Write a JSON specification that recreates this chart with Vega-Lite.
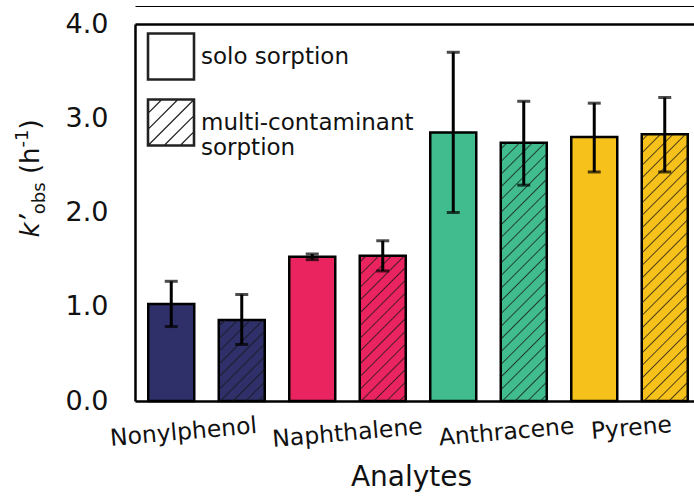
{
  "$schema": "https://vega.github.io/schema/vega-lite/v6.json",
  "width": 559,
  "height": 377,
  "autosize": {"type": "none"},
  "padding": {"left": 135, "top": 24, "right": 0, "bottom": 95},
  "background": "white",
  "config": {"view": {"stroke": null}, "font": "DejaVu Sans"},
  "data": {
    "values": [
      {"analyte": "Nonylphenol", "condition": "solo sorption", "k": 1.03, "lo": 0.79, "hi": 1.27},
      {"analyte": "Nonylphenol", "condition": "multi-contaminant sorption", "k": 0.86, "lo": 0.60, "hi": 1.13},
      {"analyte": "Naphthalene", "condition": "solo sorption", "k": 1.53, "lo": 1.50, "hi": 1.56},
      {"analyte": "Naphthalene", "condition": "multi-contaminant sorption", "k": 1.54, "lo": 1.38, "hi": 1.70},
      {"analyte": "Anthracene", "condition": "solo sorption", "k": 2.85, "lo": 2.00, "hi": 3.70},
      {"analyte": "Anthracene", "condition": "multi-contaminant sorption", "k": 2.74, "lo": 2.29, "hi": 3.18},
      {"analyte": "Pyrene", "condition": "solo sorption", "k": 2.80, "lo": 2.43, "hi": 3.16},
      {"analyte": "Pyrene", "condition": "multi-contaminant sorption", "k": 2.83, "lo": 2.43, "hi": 3.22}
    ]
  },
  "resolve": {"axis": {"x": "independent", "y": "independent"}},
  "layer": [
    {
      "mark": {"type": "bar", "stroke": "black", "strokeWidth": 2.5},
      "encoding": {
        "x": {
          "field": "analyte", "type": "nominal",
          "sort": ["Nonylphenol", "Naphthalene", "Anthracene", "Pyrene"],
          "scale": {"range": [0, 566], "paddingInner": 0, "paddingOuter": 0.0071},
          "axis": {
            "orient": "bottom", "domain": true, "domainColor": "black", "domainWidth": 2.5,
            "ticks": false, "tickSize": 0, "grid": false,
            "labelFont": "DejaVu Sans", "labelFontSize": 23.5, "labelColor": "#111",
            "labelAngle": -5, "labelAlign": "center", "labelBaseline": "middle",
            "labelOverlap": false, "labelBound": false,
            "labelOffset": {
              "condition": [
                {"test": "datum.value === 'Nonylphenol'", "value": -23},
                {"test": "datum.value === 'Anthracene'", "value": 18},
                {"test": "datum.value === 'Pyrene'", "value": 2}
              ],
              "value": 0
            },
            "labelPadding": {
              "condition": [
                {"test": "datum.value === 'Pyrene'", "value": 27},
                {"test": "datum.value === 'Naphthalene'", "value": 32}
              ],
              "value": 31
            },
            "title": "Analytes", "titleFont": "DejaVu Sans", "titleFontSize": 28,
            "titleFontWeight": "normal", "titleColor": "#111",
            "titleX": 276, "titleY": 84, "titleAlign": "center", "titleBaseline": "alphabetic"
          }
        },
        "xOffset": {
          "field": "condition", "type": "nominal",
          "sort": ["solo sorption", "multi-contaminant sorption"],
          "scale": {"paddingInner": 0.3475, "paddingOuter": 0.17375}
        },
        "y": {
          "field": "k", "type": "quantitative", "stack": null,
          "scale": {"domain": [0, 4], "nice": false},
          "axis": {
            "orient": "left", "values": [0, 1, 2, 3, 4], "format": ".1f",
            "domain": true, "domainColor": "black", "domainWidth": 2.5,
            "ticks": false, "tickSize": 0, "grid": false,
            "labelFont": "DejaVu Sans", "labelFontSize": 27, "labelColor": "#111",
            "labelPadding": 27, "title": null
          }
        },
        "fill": {
          "field": "analyte", "type": "nominal",
          "scale": {
            "domain": ["Nonylphenol", "Naphthalene", "Anthracene", "Pyrene"],
            "range": ["#2f3069", "#e9245e", "#41bc8f", "#f7c11b"]
          },
          "legend": null
        }
      }
    },
    {
      "transform": [{"filter": "datum.condition === 'multi-contaminant sorption'"}],
      "mark": {"type": "bar", "strokeWidth": 0},
      "encoding": {
        "x": {
          "field": "analyte", "type": "nominal",
          "sort": ["Nonylphenol", "Naphthalene", "Anthracene", "Pyrene"],
          "axis": {"orient": "top", "domain": true, "domainColor": "black", "domainWidth": 2.5, "labels": false, "ticks": false, "grid": false, "title": null}
        },
        "xOffset": {"field": "condition", "type": "nominal", "sort": ["solo sorption", "multi-contaminant sorption"]},
        "y": {
          "field": "k", "type": "quantitative", "stack": null,
          "axis": {
            "orient": "left", "domain": false, "labels": false, "ticks": false, "grid": false,
            "title": "k’", "titleFont": "DejaVu Sans", "titleFontSize": 26, "titleFontStyle": "italic",
            "titleFontWeight": "normal", "titleColor": "#111", "titleAngle": -90,
            "titleAlign": "left", "titleBaseline": "alphabetic", "titleX": -97, "titleY": 213
          }
        },
        "fill": {
          "condition": [
            {
              "test": "datum.analyte === 'Nonylphenol'",
              "value": {
                "gradient": "linear", "x1": 0, "y1": 0, "x2": 0.6729, "y2": 1.1857,
                "stops": [
                  {"offset": 0.039, "color": "rgba(20,20,20,0)"}, {"offset": 0.05, "color": "rgba(20,20,20,0.75)"}, {"offset": 0.061, "color": "rgba(20,20,20,0)"},
                  {"offset": 0.139, "color": "rgba(20,20,20,0)"}, {"offset": 0.15, "color": "rgba(20,20,20,0.75)"}, {"offset": 0.161, "color": "rgba(20,20,20,0)"},
                  {"offset": 0.239, "color": "rgba(20,20,20,0)"}, {"offset": 0.25, "color": "rgba(20,20,20,0.75)"}, {"offset": 0.261, "color": "rgba(20,20,20,0)"},
                  {"offset": 0.339, "color": "rgba(20,20,20,0)"}, {"offset": 0.35, "color": "rgba(20,20,20,0.75)"}, {"offset": 0.361, "color": "rgba(20,20,20,0)"},
                  {"offset": 0.439, "color": "rgba(20,20,20,0)"}, {"offset": 0.45, "color": "rgba(20,20,20,0.75)"}, {"offset": 0.461, "color": "rgba(20,20,20,0)"},
                  {"offset": 0.539, "color": "rgba(20,20,20,0)"}, {"offset": 0.55, "color": "rgba(20,20,20,0.75)"}, {"offset": 0.561, "color": "rgba(20,20,20,0)"},
                  {"offset": 0.639, "color": "rgba(20,20,20,0)"}, {"offset": 0.65, "color": "rgba(20,20,20,0.75)"}, {"offset": 0.661, "color": "rgba(20,20,20,0)"},
                  {"offset": 0.739, "color": "rgba(20,20,20,0)"}, {"offset": 0.75, "color": "rgba(20,20,20,0.75)"}, {"offset": 0.761, "color": "rgba(20,20,20,0)"},
                  {"offset": 0.839, "color": "rgba(20,20,20,0)"}, {"offset": 0.85, "color": "rgba(20,20,20,0.75)"}, {"offset": 0.861, "color": "rgba(20,20,20,0)"},
                  {"offset": 0.939, "color": "rgba(20,20,20,0)"}, {"offset": 0.95, "color": "rgba(20,20,20,0.75)"}, {"offset": 0.961, "color": "rgba(20,20,20,0)"}
                ]
              }
            },
            {
              "test": "datum.analyte === 'Naphthalene'",
              "value": {
                "gradient": "linear", "x1": 0, "y1": 0, "x2": 0.3793, "y2": 1.1967,
                "stops": [
                  {"offset": 0.026, "color": "rgba(20,20,20,0)"}, {"offset": 0.0333, "color": "rgba(20,20,20,0.75)"}, {"offset": 0.0406, "color": "rgba(20,20,20,0)"},
                  {"offset": 0.0927, "color": "rgba(20,20,20,0)"}, {"offset": 0.1, "color": "rgba(20,20,20,0.75)"}, {"offset": 0.1073, "color": "rgba(20,20,20,0)"},
                  {"offset": 0.1594, "color": "rgba(20,20,20,0)"}, {"offset": 0.1667, "color": "rgba(20,20,20,0.75)"}, {"offset": 0.174, "color": "rgba(20,20,20,0)"},
                  {"offset": 0.226, "color": "rgba(20,20,20,0)"}, {"offset": 0.2333, "color": "rgba(20,20,20,0.75)"}, {"offset": 0.2406, "color": "rgba(20,20,20,0)"},
                  {"offset": 0.2927, "color": "rgba(20,20,20,0)"}, {"offset": 0.3, "color": "rgba(20,20,20,0.75)"}, {"offset": 0.3073, "color": "rgba(20,20,20,0)"},
                  {"offset": 0.3594, "color": "rgba(20,20,20,0)"}, {"offset": 0.3667, "color": "rgba(20,20,20,0.75)"}, {"offset": 0.374, "color": "rgba(20,20,20,0)"},
                  {"offset": 0.426, "color": "rgba(20,20,20,0)"}, {"offset": 0.4333, "color": "rgba(20,20,20,0.75)"}, {"offset": 0.4406, "color": "rgba(20,20,20,0)"},
                  {"offset": 0.4927, "color": "rgba(20,20,20,0)"}, {"offset": 0.5, "color": "rgba(20,20,20,0.75)"}, {"offset": 0.5073, "color": "rgba(20,20,20,0)"},
                  {"offset": 0.5594, "color": "rgba(20,20,20,0)"}, {"offset": 0.5667, "color": "rgba(20,20,20,0.75)"}, {"offset": 0.574, "color": "rgba(20,20,20,0)"},
                  {"offset": 0.626, "color": "rgba(20,20,20,0)"}, {"offset": 0.6333, "color": "rgba(20,20,20,0.75)"}, {"offset": 0.6406, "color": "rgba(20,20,20,0)"},
                  {"offset": 0.6927, "color": "rgba(20,20,20,0)"}, {"offset": 0.7, "color": "rgba(20,20,20,0.75)"}, {"offset": 0.7073, "color": "rgba(20,20,20,0)"},
                  {"offset": 0.7594, "color": "rgba(20,20,20,0)"}, {"offset": 0.7667, "color": "rgba(20,20,20,0.75)"}, {"offset": 0.774, "color": "rgba(20,20,20,0)"},
                  {"offset": 0.826, "color": "rgba(20,20,20,0)"}, {"offset": 0.8333, "color": "rgba(20,20,20,0.75)"}, {"offset": 0.8406, "color": "rgba(20,20,20,0)"},
                  {"offset": 0.8927, "color": "rgba(20,20,20,0)"}, {"offset": 0.9, "color": "rgba(20,20,20,0.75)"}, {"offset": 0.9073, "color": "rgba(20,20,20,0)"},
                  {"offset": 0.9594, "color": "rgba(20,20,20,0)"}, {"offset": 0.9667, "color": "rgba(20,20,20,0.75)"}, {"offset": 0.974, "color": "rgba(20,20,20,0)"}
                ]
              }
            },
            {
              "test": "datum.analyte === 'Anthracene'",
              "value": {
                "gradient": "linear", "x1": 0, "y1": 0, "x2": 0.2034, "y2": 1.1419,
                "stops": [
                  {"offset": 0.0162, "color": "rgba(20,20,20,0)"}, {"offset": 0.0208, "color": "rgba(20,20,20,0.75)"}, {"offset": 0.0254, "color": "rgba(20,20,20,0)"},
                  {"offset": 0.0579, "color": "rgba(20,20,20,0)"}, {"offset": 0.0625, "color": "rgba(20,20,20,0.75)"}, {"offset": 0.0671, "color": "rgba(20,20,20,0)"},
                  {"offset": 0.0996, "color": "rgba(20,20,20,0)"}, {"offset": 0.1042, "color": "rgba(20,20,20,0.75)"}, {"offset": 0.1088, "color": "rgba(20,20,20,0)"},
                  {"offset": 0.1412, "color": "rgba(20,20,20,0)"}, {"offset": 0.1458, "color": "rgba(20,20,20,0.75)"}, {"offset": 0.1504, "color": "rgba(20,20,20,0)"},
                  {"offset": 0.1829, "color": "rgba(20,20,20,0)"}, {"offset": 0.1875, "color": "rgba(20,20,20,0.75)"}, {"offset": 0.1921, "color": "rgba(20,20,20,0)"},
                  {"offset": 0.2246, "color": "rgba(20,20,20,0)"}, {"offset": 0.2292, "color": "rgba(20,20,20,0.75)"}, {"offset": 0.2338, "color": "rgba(20,20,20,0)"},
                  {"offset": 0.2662, "color": "rgba(20,20,20,0)"}, {"offset": 0.2708, "color": "rgba(20,20,20,0.75)"}, {"offset": 0.2754, "color": "rgba(20,20,20,0)"},
                  {"offset": 0.3079, "color": "rgba(20,20,20,0)"}, {"offset": 0.3125, "color": "rgba(20,20,20,0.75)"}, {"offset": 0.3171, "color": "rgba(20,20,20,0)"},
                  {"offset": 0.3496, "color": "rgba(20,20,20,0)"}, {"offset": 0.3542, "color": "rgba(20,20,20,0.75)"}, {"offset": 0.3588, "color": "rgba(20,20,20,0)"},
                  {"offset": 0.3912, "color": "rgba(20,20,20,0)"}, {"offset": 0.3958, "color": "rgba(20,20,20,0.75)"}, {"offset": 0.4004, "color": "rgba(20,20,20,0)"},
                  {"offset": 0.4329, "color": "rgba(20,20,20,0)"}, {"offset": 0.4375, "color": "rgba(20,20,20,0.75)"}, {"offset": 0.4421, "color": "rgba(20,20,20,0)"},
                  {"offset": 0.4746, "color": "rgba(20,20,20,0)"}, {"offset": 0.4792, "color": "rgba(20,20,20,0.75)"}, {"offset": 0.4838, "color": "rgba(20,20,20,0)"},
                  {"offset": 0.5162, "color": "rgba(20,20,20,0)"}, {"offset": 0.5208, "color": "rgba(20,20,20,0.75)"}, {"offset": 0.5254, "color": "rgba(20,20,20,0)"},
                  {"offset": 0.5579, "color": "rgba(20,20,20,0)"}, {"offset": 0.5625, "color": "rgba(20,20,20,0.75)"}, {"offset": 0.5671, "color": "rgba(20,20,20,0)"},
                  {"offset": 0.5996, "color": "rgba(20,20,20,0)"}, {"offset": 0.6042, "color": "rgba(20,20,20,0.75)"}, {"offset": 0.6088, "color": "rgba(20,20,20,0)"},
                  {"offset": 0.6412, "color": "rgba(20,20,20,0)"}, {"offset": 0.6458, "color": "rgba(20,20,20,0.75)"}, {"offset": 0.6504, "color": "rgba(20,20,20,0)"},
                  {"offset": 0.6829, "color": "rgba(20,20,20,0)"}, {"offset": 0.6875, "color": "rgba(20,20,20,0.75)"}, {"offset": 0.6921, "color": "rgba(20,20,20,0)"},
                  {"offset": 0.7246, "color": "rgba(20,20,20,0)"}, {"offset": 0.7292, "color": "rgba(20,20,20,0.75)"}, {"offset": 0.7338, "color": "rgba(20,20,20,0)"},
                  {"offset": 0.7662, "color": "rgba(20,20,20,0)"}, {"offset": 0.7708, "color": "rgba(20,20,20,0.75)"}, {"offset": 0.7754, "color": "rgba(20,20,20,0)"},
                  {"offset": 0.8079, "color": "rgba(20,20,20,0)"}, {"offset": 0.8125, "color": "rgba(20,20,20,0.75)"}, {"offset": 0.8171, "color": "rgba(20,20,20,0)"},
                  {"offset": 0.8496, "color": "rgba(20,20,20,0)"}, {"offset": 0.8542, "color": "rgba(20,20,20,0.75)"}, {"offset": 0.8588, "color": "rgba(20,20,20,0)"},
                  {"offset": 0.8912, "color": "rgba(20,20,20,0)"}, {"offset": 0.8958, "color": "rgba(20,20,20,0.75)"}, {"offset": 0.9004, "color": "rgba(20,20,20,0)"},
                  {"offset": 0.9329, "color": "rgba(20,20,20,0)"}, {"offset": 0.9375, "color": "rgba(20,20,20,0.75)"}, {"offset": 0.9421, "color": "rgba(20,20,20,0)"},
                  {"offset": 0.9746, "color": "rgba(20,20,20,0)"}, {"offset": 0.9792, "color": "rgba(20,20,20,0.75)"}, {"offset": 0.9838, "color": "rgba(20,20,20,0)"}
                ]
              }
            }
          ],
          "value": {
            "gradient": "linear", "x1": 0, "y1": 0, "x2": 0.1964, "y2": 1.1386,
            "stops": [
              {"offset": 0.0155, "color": "rgba(20,20,20,0)"}, {"offset": 0.02, "color": "rgba(20,20,20,0.75)"}, {"offset": 0.0245, "color": "rgba(20,20,20,0)"},
              {"offset": 0.0555, "color": "rgba(20,20,20,0)"}, {"offset": 0.06, "color": "rgba(20,20,20,0.75)"}, {"offset": 0.0645, "color": "rgba(20,20,20,0)"},
              {"offset": 0.0955, "color": "rgba(20,20,20,0)"}, {"offset": 0.1, "color": "rgba(20,20,20,0.75)"}, {"offset": 0.1045, "color": "rgba(20,20,20,0)"},
              {"offset": 0.1355, "color": "rgba(20,20,20,0)"}, {"offset": 0.14, "color": "rgba(20,20,20,0.75)"}, {"offset": 0.1445, "color": "rgba(20,20,20,0)"},
              {"offset": 0.1755, "color": "rgba(20,20,20,0)"}, {"offset": 0.18, "color": "rgba(20,20,20,0.75)"}, {"offset": 0.1845, "color": "rgba(20,20,20,0)"},
              {"offset": 0.2155, "color": "rgba(20,20,20,0)"}, {"offset": 0.22, "color": "rgba(20,20,20,0.75)"}, {"offset": 0.2245, "color": "rgba(20,20,20,0)"},
              {"offset": 0.2555, "color": "rgba(20,20,20,0)"}, {"offset": 0.26, "color": "rgba(20,20,20,0.75)"}, {"offset": 0.2645, "color": "rgba(20,20,20,0)"},
              {"offset": 0.2955, "color": "rgba(20,20,20,0)"}, {"offset": 0.3, "color": "rgba(20,20,20,0.75)"}, {"offset": 0.3045, "color": "rgba(20,20,20,0)"},
              {"offset": 0.3355, "color": "rgba(20,20,20,0)"}, {"offset": 0.34, "color": "rgba(20,20,20,0.75)"}, {"offset": 0.3445, "color": "rgba(20,20,20,0)"},
              {"offset": 0.3755, "color": "rgba(20,20,20,0)"}, {"offset": 0.38, "color": "rgba(20,20,20,0.75)"}, {"offset": 0.3845, "color": "rgba(20,20,20,0)"},
              {"offset": 0.4155, "color": "rgba(20,20,20,0)"}, {"offset": 0.42, "color": "rgba(20,20,20,0.75)"}, {"offset": 0.4245, "color": "rgba(20,20,20,0)"},
              {"offset": 0.4555, "color": "rgba(20,20,20,0)"}, {"offset": 0.46, "color": "rgba(20,20,20,0.75)"}, {"offset": 0.4645, "color": "rgba(20,20,20,0)"},
              {"offset": 0.4955, "color": "rgba(20,20,20,0)"}, {"offset": 0.5, "color": "rgba(20,20,20,0.75)"}, {"offset": 0.5045, "color": "rgba(20,20,20,0)"},
              {"offset": 0.5355, "color": "rgba(20,20,20,0)"}, {"offset": 0.54, "color": "rgba(20,20,20,0.75)"}, {"offset": 0.5445, "color": "rgba(20,20,20,0)"},
              {"offset": 0.5755, "color": "rgba(20,20,20,0)"}, {"offset": 0.58, "color": "rgba(20,20,20,0.75)"}, {"offset": 0.5845, "color": "rgba(20,20,20,0)"},
              {"offset": 0.6155, "color": "rgba(20,20,20,0)"}, {"offset": 0.62, "color": "rgba(20,20,20,0.75)"}, {"offset": 0.6245, "color": "rgba(20,20,20,0)"},
              {"offset": 0.6555, "color": "rgba(20,20,20,0)"}, {"offset": 0.66, "color": "rgba(20,20,20,0.75)"}, {"offset": 0.6645, "color": "rgba(20,20,20,0)"},
              {"offset": 0.6955, "color": "rgba(20,20,20,0)"}, {"offset": 0.7, "color": "rgba(20,20,20,0.75)"}, {"offset": 0.7045, "color": "rgba(20,20,20,0)"},
              {"offset": 0.7355, "color": "rgba(20,20,20,0)"}, {"offset": 0.74, "color": "rgba(20,20,20,0.75)"}, {"offset": 0.7445, "color": "rgba(20,20,20,0)"},
              {"offset": 0.7755, "color": "rgba(20,20,20,0)"}, {"offset": 0.78, "color": "rgba(20,20,20,0.75)"}, {"offset": 0.7845, "color": "rgba(20,20,20,0)"},
              {"offset": 0.8155, "color": "rgba(20,20,20,0)"}, {"offset": 0.82, "color": "rgba(20,20,20,0.75)"}, {"offset": 0.8245, "color": "rgba(20,20,20,0)"},
              {"offset": 0.8555, "color": "rgba(20,20,20,0)"}, {"offset": 0.86, "color": "rgba(20,20,20,0.75)"}, {"offset": 0.8645, "color": "rgba(20,20,20,0)"},
              {"offset": 0.8955, "color": "rgba(20,20,20,0)"}, {"offset": 0.9, "color": "rgba(20,20,20,0.75)"}, {"offset": 0.9045, "color": "rgba(20,20,20,0)"},
              {"offset": 0.9355, "color": "rgba(20,20,20,0)"}, {"offset": 0.94, "color": "rgba(20,20,20,0.75)"}, {"offset": 0.9445, "color": "rgba(20,20,20,0)"},
              {"offset": 0.9755, "color": "rgba(20,20,20,0)"}, {"offset": 0.98, "color": "rgba(20,20,20,0.75)"}, {"offset": 0.9845, "color": "rgba(20,20,20,0)"}
            ]
          }
        }
      }
    },
    {
      "mark": {"type": "rule", "strokeWidth": 3, "color": "black"},
      "encoding": {
        "x": {
          "field": "analyte", "type": "nominal",
          "sort": ["Nonylphenol", "Naphthalene", "Anthracene", "Pyrene"],
          "axis": {"orient": "top", "offset": 18, "domain": true, "domainColor": "black", "domainWidth": 1, "labels": false, "ticks": false, "grid": false, "title": null}
        },
        "xOffset": {"field": "condition", "type": "nominal", "sort": ["solo sorption", "multi-contaminant sorption"]},
        "y": {
          "field": "lo", "type": "quantitative",
          "axis": {
            "orient": "left", "domain": false, "labels": false, "ticks": false, "grid": false,
            "title": "obs", "titleFont": "DejaVu Sans", "titleFontSize": 18,
            "titleFontWeight": "normal", "titleColor": "#111", "titleAngle": -90,
            "titleAlign": "left", "titleBaseline": "alphabetic", "titleX": -91, "titleY": 189.7
          }
        },
        "y2": {"field": "hi"}
      }
    },
    {
      "mark": {"type": "tick", "thickness": 3, "size": 13, "color": "black"},
      "encoding": {
        "x": {"field": "analyte", "type": "nominal", "sort": ["Nonylphenol", "Naphthalene", "Anthracene", "Pyrene"], "axis": null},
        "xOffset": {"field": "condition", "type": "nominal", "sort": ["solo sorption", "multi-contaminant sorption"]},
        "y": {
          "field": "hi", "type": "quantitative",
          "axis": {
            "orient": "left", "domain": false, "labels": false, "ticks": false, "grid": false,
            "title": "(h", "titleFont": "DejaVu Sans", "titleFontSize": 26,
            "titleFontWeight": "normal", "titleColor": "#111", "titleAngle": -90,
            "titleAlign": "left", "titleBaseline": "alphabetic", "titleX": -97, "titleY": 149.6
          }
        }
      }
    },
    {
      "mark": {"type": "tick", "thickness": 3, "size": 13, "color": "black"},
      "encoding": {
        "x": {"field": "analyte", "type": "nominal", "sort": ["Nonylphenol", "Naphthalene", "Anthracene", "Pyrene"], "axis": null},
        "xOffset": {"field": "condition", "type": "nominal", "sort": ["solo sorption", "multi-contaminant sorption"]},
        "y": {
          "field": "lo", "type": "quantitative",
          "axis": {
            "orient": "left", "domain": false, "labels": false, "ticks": false, "grid": false,
            "title": "-1", "titleFont": "DejaVu Sans", "titleFontSize": 18,
            "titleFontWeight": "normal", "titleColor": "#111", "titleAngle": -90,
            "titleAlign": "left", "titleBaseline": "alphabetic", "titleX": -108, "titleY": 123
          }
        }
      }
    },
    {
      "mark": {"type": "point", "size": 0, "filled": false, "stroke": "#222222", "strokeWidth": 1.2},
      "encoding": {
        "x": {"field": "analyte", "type": "nominal", "sort": ["Nonylphenol", "Naphthalene", "Anthracene", "Pyrene"], "axis": null},
        "xOffset": {"field": "condition", "type": "nominal", "sort": ["solo sorption", "multi-contaminant sorption"]},
        "y": {
          "field": "k", "type": "quantitative",
          "axis": {
            "orient": "left", "domain": false, "labels": false, "ticks": false, "grid": false,
            "title": ")", "titleFont": "DejaVu Sans", "titleFontSize": 26,
            "titleFontWeight": "normal", "titleColor": "#111", "titleAngle": -90,
            "titleAlign": "left", "titleBaseline": "alphabetic", "titleX": -97, "titleY": 105
          }
        },
        "shape": {
          "field": "condition", "type": "nominal",
          "sort": ["solo sorption", "multi-contaminant sorption"],
          "scale": {
            "range": [
              "M-1.03,-1.03H1.03V1.03H-1.03ZM-1,-1H1V1H-1ZM-0.97,-0.97H0.97V0.97H-0.97Z",
              "M-1.03,-1.03H1.03V1.03H-1.03ZM-1,-1H1V1H-1ZM-0.97,-0.97H0.97V0.97H-0.97ZM-1,-0.4L-0.4,-1M-1,0.3L0.3,-1M-1,1L1,-1M-0.3,1L1,-0.3M0.4,1L1,0.4"
            ]
          },
          "legend": {
            "orient": "none", "legendX": 12, "legendY": 8.5, "title": null, "padding": 0,
            "symbolSize": 2116, "symbolStrokeWidth": 1.2,
            "symbolStrokeColor": "#222222", "symbolFillColor": "transparent", "symbolOpacity": 1,
            "labelFont": "DejaVu Sans", "labelFontSize": 23, "labelColor": "#111",
            "labelOffset": 6, "labelLimit": 400, "rowPadding": 12,
            "labelExpr": "datum.label === 'multi-contaminant sorption' ? ['multi-contaminant', 'sorption'] : datum.label"
          }
        }
      }
    }
  ]
}
